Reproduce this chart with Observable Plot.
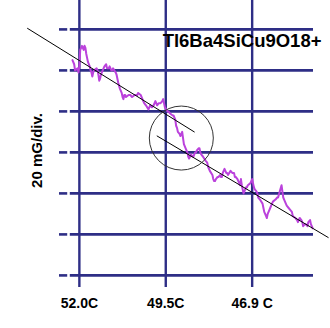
<!DOCTYPE html>
<html>
<head>
<meta charset="utf-8">
<script src="https://cdn.jsdelivr.net/npm/d3@7"></script>
<script src="https://cdn.jsdelivr.net/npm/@observablehq/plot@0.6"></script>
<style>
  html, body { margin: 0; padding: 0; background: #ffffff; }
  #chart { width: 330px; height: 328px; overflow: hidden; }
</style>
</head>
<body>
<div id="chart"></div>
<script>
// Title and axis texts
const titleText = "Tl6Ba4SiCu9O18+";
const yLabel = "20 mG/div.";
// x in hundredths of a temperature division, y in mG
const xTicks = [0, 100, 200];
const xTickLabels = ["52.0C", "49.5C", "46.9 C"];
const yTicks = [0, 20, 40, 60, 80, 100, 120];

// Measured signal
const pos = [-8,-6,-5,-2,-1,0,1,2,3,5,6,7,8,9,10,12,13,14,15,16,17,20,21,22,23,24,25,27,28,29,31,32,34,35,36,37,38,39,42,43,45,47,49,50,51,52,53,54,57,59,61,64,66,67,68,71,73,75,77,80,81,82,84,86,88,90,92,94,96,97,99,102,103,105,108,109,111,112,113,114,116,117,118,119,120,121,123,124,125,126,127,128,129,131,132,134,135,136,138,139,140,141,143,146,148,149,151,154,155,156,157,158,160,161,163,164,165,166,168,169,170,171,172,175,177,179,180,181,183,185,186,187,188,190,191,192,193,194,195,198,199,200,201,202,203,205,206,207,209,212,213,214,215,216,217,218,220,221,223,224,227,229,230,232,234,235,236,237,238,240,242,244,246,247,250,252,253,255,257,258,259,261,262,264,265,267,268,269,270];
const field = [105,103,100,101,99,102,110,111,112,110,112,111,108,106,104,102,100,99,97,99,100,101,100,98,95,96,98,100,101,102,103,101,101,102,101,100,100,101,99,98,94,91,89,87,86,88,88,87,88,88,87,88,88,88,89,88,86,84,83,81,82,83,82,83,85,83,84,84,85,86,82,80,80,79,78,78,76,73,72,70,69,68,69,70,67,64,62,61,60,58,57,58,59,58,58,60,60,61,62,62,60,59,58,56,55,53,51,49,47,46,46,47,48,48,49,48,48,50,52,51,50,50,49,51,50,50,48,48,47,45,44,47,44,40,41,42,43,43,44,45,46,47,45,43,42,41,40,38,37,35,33,31,30,29,28,30,32,33,35,36,37,38,38,41,44,41,38,37,36,34,33,32,31,29,28,27,26,28,27,26,24,25,25,24,26,27,25,24,23];

// Fitted trend lines and highlight circle
const fitUpperX = [-60, 133];
const fitUpperY = [120.5, 70];
const fitLowerX = [90, 288];
const fitLowerY = [68, 18.5];
const circleX = [118];
const circleY = [67];

const signal = pos.map((x, i) => ({x, y: field[i]}));
const fitUpper = fitUpperX.map((x, i) => ({x, y: fitUpperY[i]}));
const fitLower = fitLowerX.map((x, i) => ({x, y: fitLowerY[i]}));
const circle = circleX.map((x, i) => ({x, y: circleY[i]}));

const gridColor = "#2e2e86";

const chart = Plot.plot({
  width: 330,
  height: 328,
  marginLeft: 59,
  marginRight: 17,
  marginTop: 0,
  marginBottom: 41,
  style: {
    fontFamily: "'Liberation Sans', Arial, sans-serif",
    fontSize: "14px",
    fontWeight: "bold",
    background: "#ffffff",
    color: "#000000"
  },
  x: {
    domain: [-23, 271],
    ticks: xTicks,
    tickFormat: d => xTickLabels[xTicks.indexOf(d)],
    tickSize: 0,
    tickPadding: 11,
    label: null
  },
  y: {
    domain: [-5.9, 134.1],
    axis: null
  },
  marks: [
    Plot.ruleY(yTicks, {x1: -23, x2: -13.5, stroke: gridColor, strokeWidth: 2.6}),
    Plot.ruleY(yTicks, {x1: -10.5, x2: 271, stroke: gridColor, strokeWidth: 2.6}),
    Plot.ruleX(xTicks, {stroke: gridColor, strokeWidth: 2.4}),
    Plot.line(signal, {x: "x", y: "y", stroke: "#bb42dc", strokeWidth: 2, strokeLinejoin: "round"}),
    Plot.line(fitUpper, {x: "x", y: "y", stroke: "#000000", strokeWidth: 1}),
    Plot.line(fitLower, {x: "x", y: "y", stroke: "#000000", strokeWidth: 1}),
    Plot.dot(circle, {x: "x", y: "y", r: 32, stroke: "#333333", fill: "none", strokeWidth: 1}),
    Plot.text([titleText], {frameAnchor: "top-right", text: d => d, textAnchor: "end", lineAnchor: "top", dx: 8, dy: 33, fontSize: 18.5, fontWeight: "bold", fill: "#000000"}),
    Plot.text([yLabel], {frameAnchor: "left", text: d => d, rotate: -90, textAnchor: "middle", lineAnchor: "middle", dx: -22.5, dy: 6.5, fontSize: 15, fontWeight: "bold", fill: "#000000"})
  ]
});

document.getElementById("chart").appendChild(chart);
</script>
</body>
</html>
